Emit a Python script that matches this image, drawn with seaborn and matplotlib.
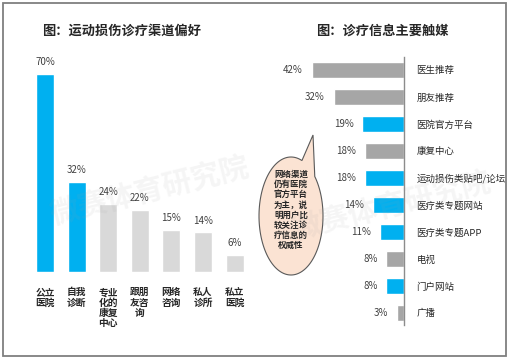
import numpy as np
import pandas as pd
import seaborn as sns
import matplotlib.pyplot as plt
from matplotlib.patches import Polygon, Rectangle

# left chart: channel preference
left_cats = ["公立医院", "自我诊断", "专业化的康复中心", "跟朋友咨询", "网络咨询", "私人诊所", "私立医院"]
left_vals = [70, 32, 24, 22, 15, 14, 6]
left_hl = ["公立医院", "自我诊断"]

# right chart: information sources
right_cats = ["医生推荐", "朋友推荐", "医院官方平台", "康复中心", "运动损伤类贴吧/论坛",
              "医疗类专题网站", "医疗类专题APP", "电视", "门户网站", "广播"]
right_vals = [42, 32, 19, 18, 18, 14, 11, 8, 8, 3]
right_hl = ["医院官方平台", "运动损伤类贴吧/论坛", "医疗类专题网站", "医疗类专题APP", "门户网站"]

note_lines = ["网络渠道", "仍有医院", "官方平台", "为主，说", "明用户比", "较关注诊", "疗信息的", "权威性"]

BLUE = "#00B0F0"
W, H = 508, 358

sns.set_style("white")
plt.rcParams['font.family'] = ['Noto Sans CJK SC', 'DejaVu Sans']


def px(x, y, w=0, h=0):
    # pixel box (top-left origin) -> figure fraction rect
    return [x / W, 1 - (y + h) / H, w / W, h / H]


fig = plt.figure(figsize=(W / 100, H / 100), dpi=100)

# ---- left chart
ax1 = fig.add_axes(px(26, 46, 227.5, 226))
df1 = pd.DataFrame({"cat": left_cats, "val": left_vals})
pal1 = {c: (BLUE if c in left_hl else "#D9D9D9") for c in left_cats}
sns.barplot(data=df1, x="cat", y="val", hue="cat", palette=pal1, width=0.57,
            legend=False, saturation=1, ax=ax1)
ax1.set_xlim(-0.6, 6.6)
ax1.set_ylim(0, 80)
for i, v in enumerate(left_vals):
    ax1.annotate(f"{v}%", xy=(i, v), xytext=(0, 5), textcoords="offset points",
                 ha="center", va="bottom", fontsize=7, color="#404040")
wrapped = ["\n".join(c[k:k + 2] for k in range(0, len(c), 2)) for c in left_cats]
ax1.set_xticks(range(len(left_cats)))
ax1.set_xticklabels(wrapped, fontsize=7, fontweight="bold", linespacing=1.05)
ax1.tick_params(axis="x", length=0, pad=11)
ax1.set_yticks([])
ax1.set(xlabel="", ylabel="")
sns.despine(ax=ax1, left=True, bottom=True)

# ---- right chart
ax2 = fig.add_axes(px(272.6, 57, 131.4, 268))
df2 = pd.DataFrame({"cat": right_cats, "val": right_vals})
pal2 = {c: (BLUE if c in right_hl else "#A6A6A6") for c in right_cats}
sns.barplot(data=df2, x="val", y="cat", hue="cat", palette=pal2, orient="h", width=0.6,
            legend=False, saturation=1, ax=ax2)
ax2.set_xlim(60, 0)
ax2.set_ylim(9.45, -0.48)
for i, v in enumerate(right_vals):
    ax2.annotate(f"{v}%", xy=(v, i), xytext=(-6.5, 0), textcoords="offset points",
                 ha="right", va="center", fontsize=7, color="#404040")
ax2.yaxis.tick_right()
ax2.tick_params(axis="y", length=0, pad=9, labelsize=6.8)
ax2.set_xticks([])
ax2.set(xlabel="", ylabel="")
for s in ["left", "top", "bottom"]:
    ax2.spines[s].set_visible(False)
ax2.spines["right"].set_visible(True)
ax2.spines["right"].set_color("#8C8C8C")
ax2.spines["right"].set_linewidth(1)

# ---- titles
fig.text(122 / W, 1 - 31 / H, "图：运动损伤诊疗渠道偏好", ha="center", va="center",
         fontsize=9.5, fontweight="bold")
fig.text(382 / W, 1 - 31 / H, "图：诊疗信息主要触媒", ha="center", va="center",
         fontsize=9.5, fontweight="bold")

# ---- callout bubble
cx, cy, a, b = 291, 216, 32, 59
t = np.radians(np.linspace(70, 402, 120))
pts = [(cx + a * np.cos(tt), cy - b * np.sin(tt)) for tt in t]
pts.append((313, 135))
pts = [(x / W, 1 - y / H) for x, y in pts]
fig.patches.append(Polygon(pts, closed=True, transform=fig.transFigure,
                           facecolor="#FBE3D3", edgecolor="#595959", lw=0.8, zorder=5))
fig.text(291 / W, 1 - 210 / H, "\n".join(note_lines), ha="center", va="center",
         fontsize=6.1, fontweight="bold", linespacing=1.18, zorder=6)

# ---- faint watermarks
for (wx, wy) in [(150, 190), (392, 205)]:
    fig.text(wx / W, 1 - wy / H, "微赛体育研究院", ha="center", va="center", rotation=14,
             fontsize=21, fontweight="bold", color="#A0A0A0", alpha=0.1, zorder=7)

# ---- frame
fig.patches.append(Rectangle((2.5 / W, 1 - 356 / H), 503 / W, 353.5 / H,
                             transform=fig.transFigure, fill=False,
                             edgecolor="#7F7F7F", lw=1.3, zorder=8))

fig.savefig("out.png", dpi=100)
